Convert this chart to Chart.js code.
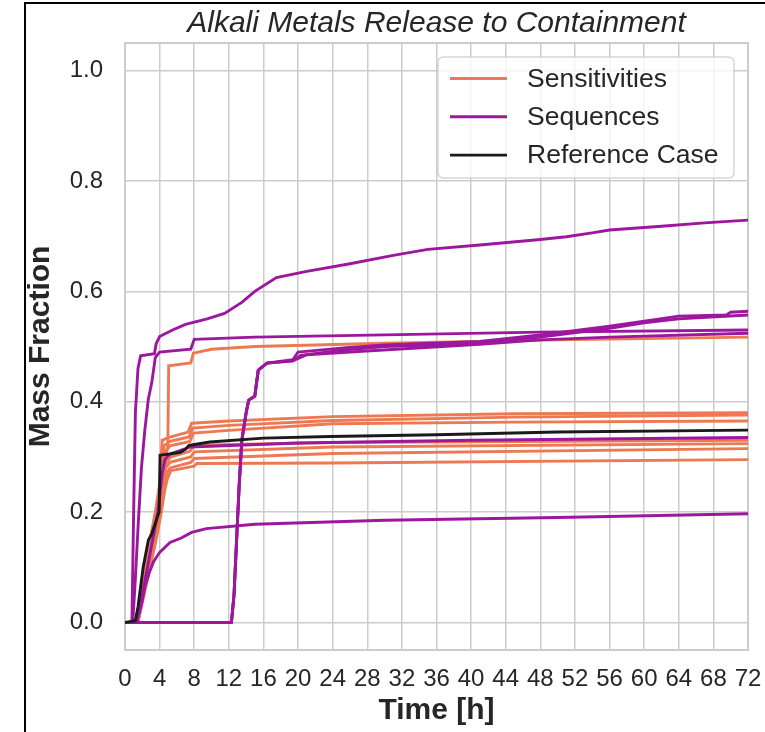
<!DOCTYPE html>
<html>
<head>
<meta charset="utf-8">
<script src="https://cdn.jsdelivr.net/npm/chart.js@4.4.0/dist/chart.umd.min.js"></script>
<style>
    html, body { margin: 0; padding: 0; background: #fff; overflow: hidden; }
    #wrap { position: relative; width: 765px; height: 732px; }
    #frame { position: absolute; left: 24px; top: 2px; width: 800px; height: 800px; border: 2px solid #000; pointer-events: none; }
</style>
</head>
<body>
<div id="wrap">
    <canvas id="releaseChart" width="765" height="732"></canvas>
    <div id="frame"></div>
</div>
<script>
// Tick labels
const xTicks = [0, 4, 8, 12, 16, 20, 24, 28, 32, 36, 40, 44, 48, 52, 56, 60, 64, 68, 72];
const yTicks = [0, 0.2, 0.4, 0.6, 0.8, 1.0];

// Reference case [time h, mass fraction]
const refCase = [[0, 0], [1.2, 0.003], [1.5, 0.028], [2.1, 0.1], [2.7, 0.149], [3.1, 0.161], [3.7, 0.189], [3.95, 0.2],
    [4.05, 0.303], [5, 0.305], [6.4, 0.308], [7.0, 0.314], [7.4, 0.321], [9.8, 0.327], [16, 0.334], [23.7, 0.337],
    [36, 0.34], [50, 0.345], [72, 0.3485]];

// Sensitivities
const sens1 = [[0, 0], [1.3, 0], [1.8, 0.035], [2.4, 0.09], [3.0, 0.14], [3.6, 0.19], [4.2, 0.25], [4.6, 0.29], [4.95, 0.32],
    [5.05, 0.465], [7.6, 0.47], [7.9, 0.488], [10, 0.495], [15, 0.5], [30, 0.506], [50, 0.512], [72, 0.517]];
const sens2 = [[0, 0], [1.2, 0], [1.7, 0.04], [2.3, 0.1], [2.9, 0.15], [3.5, 0.2], [4.0, 0.25], [4.3, 0.33], [5, 0.335],
    [7.3, 0.345], [7.7, 0.361], [12, 0.365], [24, 0.373], [45, 0.378], [72, 0.38]];
const sens3 = [[0, 0], [1.3, 0], [1.9, 0.04], [2.5, 0.09], [3.1, 0.14], [3.7, 0.19], [4.2, 0.24], [4.5, 0.32], [5.2, 0.328],
    [7.4, 0.336], [7.8, 0.352], [12, 0.357], [24, 0.366], [45, 0.372], [72, 0.376]];
const sens4 = [[0, 0], [1.4, 0], [2.0, 0.05], [2.6, 0.1], [3.2, 0.15], [3.8, 0.2], [4.4, 0.26], [4.7, 0.31], [5.2, 0.32],
    [7.5, 0.328], [7.9, 0.343], [12, 0.348], [24, 0.36], [45, 0.363], [72, 0.365]];
const sens5 = [[0, 0], [1.5, 0], [2.1, 0.05], [2.8, 0.11], [3.4, 0.16], [4.0, 0.21], [4.5, 0.26], [4.8, 0.29], [5.3, 0.3],
    [7.5, 0.31], [8.0, 0.321], [24, 0.326], [72, 0.33]];
const sens6 = [[0, 0], [1.3, 0], [1.9, 0.04], [2.5, 0.08], [3.2, 0.13], [3.9, 0.19], [4.4, 0.24], [4.7, 0.28], [5.2, 0.29],
    [7.6, 0.3], [8.0, 0.309], [24, 0.318], [72, 0.324]];
const sens7 = [[0, 0], [1.4, 0], [2.0, 0.04], [2.7, 0.09], [3.4, 0.14], [4.0, 0.19], [4.5, 0.24], [4.8, 0.27], [5.2, 0.28],
    [7.6, 0.29], [8.0, 0.297], [24, 0.306], [72, 0.315]];
const sens8 = [[0, 0], [1.5, 0], [2.2, 0.05], [2.9, 0.1], [3.6, 0.15], [4.2, 0.2], [4.6, 0.24], [4.9, 0.26], [5.3, 0.275],
    [8, 0.283], [8.3, 0.288], [24, 0.289], [72, 0.295]];

// Sequences
const seqTop = [[0, 0], [0.8, 0], [1.0, 0.2], [1.2, 0.38], [1.5, 0.46], [1.8, 0.483], [3.4, 0.487], [3.6, 0.505], [4.0, 0.518],
    [5.5, 0.53], [7, 0.54], [9.5, 0.55], [11.5, 0.56], [13.5, 0.58], [15, 0.6], [17.5, 0.625], [21, 0.636], [26, 0.65],
    [31, 0.665], [35, 0.676], [41, 0.684], [48, 0.694], [51, 0.699], [54, 0.706], [56, 0.711], [62, 0.718], [67, 0.724], [72, 0.729]];
const seqFlat = [[0, 0], [0.9, 0], [1.2, 0.08], [1.5, 0.17], [1.9, 0.28], [2.3, 0.35], [2.7, 0.405], [3.1, 0.435], [3.5, 0.48],
    [4.0, 0.49], [7.6, 0.495], [8.0, 0.513], [15, 0.517], [30, 0.521], [48, 0.526], [72, 0.53]];
const seqLow = [[0, 0], [1.3, 0], [1.7, 0.02], [2.0, 0.04], [2.3, 0.065], [2.8, 0.09], [3.3, 0.11], [4.0, 0.127], [5.2, 0.145],
    [6.5, 0.153], [7.7, 0.163], [9.4, 0.17], [15, 0.178], [30, 0.185], [50, 0.19], [72, 0.197]];
const seqLateA = [[0, 0], [12.3, 0], [12.6, 0.05], [12.9, 0.15], [13.2, 0.25], [13.5, 0.33], [14.0, 0.38], [14.3, 0.403],
    [15.0, 0.41], [15.4, 0.457], [16.4, 0.47], [19.4, 0.476], [20, 0.49], [25.6, 0.498], [30, 0.503], [41, 0.509],
    [48, 0.521], [56, 0.537], [60, 0.546], [64, 0.555], [69.5, 0.557], [70, 0.562], [72, 0.564]];
const seqLateB = [[0, 0], [12.3, 0], [12.6, 0.05], [12.9, 0.15], [13.2, 0.25], [13.5, 0.33], [14.0, 0.38], [14.3, 0.403],
    [15.0, 0.41], [15.4, 0.457], [16.4, 0.47], [19.4, 0.474], [20.3, 0.484], [25.6, 0.494], [30, 0.5], [41, 0.506],
    [48, 0.517], [56, 0.533], [60, 0.543], [64, 0.55], [72, 0.557]];
const seqLateC = [[0, 0], [12.3, 0], [12.6, 0.05], [12.9, 0.15], [13.2, 0.25], [13.5, 0.33], [14.0, 0.38], [14.3, 0.403],
    [15.0, 0.41], [15.4, 0.457], [16.4, 0.47], [19.4, 0.474], [21, 0.485], [26, 0.49], [41, 0.504], [48, 0.512],
    [56, 0.517], [72, 0.524]];
const seqMid = [[0, 0], [1.4, 0], [2.0, 0.05], [2.6, 0.1], [3.2, 0.15], [3.8, 0.2], [4.3, 0.27], [4.6, 0.295], [5.2, 0.305],
    [7, 0.315], [7.5, 0.318], [20, 0.325], [40, 0.33], [72, 0.335]];

const sensitivities = [sens1, sens2, sens3, sens4, sens5, sens6, sens7, sens8];
const sequences = [seqTop, seqFlat, seqLow, seqLateA, seqLateB, seqLateC, seqMid];

const SENS_COLOR = '#ed7953';
const SEQ_COLOR = '#9c179e';
const REF_COLOR = '#1a1a1a';
const FONT = "'Liberation Sans', Arial, sans-serif";
const TITLE = 'Alkali Metals Release to Containment';

Chart.defaults.font.family = FONT;
Chart.defaults.color = '#262626';

function line(data, color, order) {
    return { data: data, borderColor: color, borderWidth: 2.9, pointRadius: 0, tension: 0, fill: false, order: order };
}

const datasets = [line(refCase, REF_COLOR, 0)]
    .concat(sequences.map(s => line(s, SEQ_COLOR, 1)))
    .concat(sensitivities.map(s => line(s, SENS_COLOR, 2)));

// light frame around the axes + title centred over the plot
const framePlugin = {
    id: 'frame',
    beforeDatasetsDraw(chart) {
        const a = chart.chartArea, c = chart.ctx;
        c.save();
        c.strokeStyle = '#cccccc';
        c.lineWidth = 2;
        c.strokeRect(a.left, a.top, a.right - a.left, a.bottom - a.top);
        c.font = 'italic 30px ' + FONT;
        c.fillStyle = '#262626';
        c.textAlign = 'center';
        c.textBaseline = 'middle';
        c.fillText(TITLE, (a.left + a.right) / 2, 24);
        c.restore();
    }
};

// legend box in the upper right corner
const legendItems = [
    { text: 'Sensitivities', color: SENS_COLOR },
    { text: 'Sequences', color: SEQ_COLOR },
    { text: 'Reference Case', color: REF_COLOR }
];
const legendPlugin = {
    id: 'boxLegend',
    afterDraw(chart) {
        const a = chart.chartArea, c = chart.ctx;
        const w = 296, h = 121, r = 6;
        const x = a.right - 14 - w, y = a.top + 14;
        c.save();
        c.beginPath();
        c.moveTo(x + r, y);
        c.lineTo(x + w - r, y);
        c.quadraticCurveTo(x + w, y, x + w, y + r);
        c.lineTo(x + w, y + h - r);
        c.quadraticCurveTo(x + w, y + h, x + w - r, y + h);
        c.lineTo(x + r, y + h);
        c.quadraticCurveTo(x, y + h, x, y + h - r);
        c.lineTo(x, y + r);
        c.quadraticCurveTo(x, y, x + r, y);
        c.closePath();
        c.fillStyle = 'rgba(255,255,255,0.8)';
        c.fill();
        c.strokeStyle = 'rgba(204,204,204,0.8)';
        c.lineWidth = 1.5;
        c.stroke();
        c.font = '26.5px ' + FONT;
        c.textBaseline = 'middle';
        c.textAlign = 'left';
        legendItems.forEach((it, i) => {
            const cy = y + 21.5 + i * 38.3;
            c.strokeStyle = it.color;
            c.lineWidth = 2.9;
            c.beginPath();
            c.moveTo(x + 12, cy);
            c.lineTo(x + 69, cy);
            c.stroke();
            c.fillStyle = '#262626';
            c.fillText(it.text, x + 89, cy + 1);
        });
        c.restore();
    }
};

const ctx = document.getElementById('releaseChart').getContext('2d');

new Chart(ctx, {
    type: 'line',
    data: { datasets: datasets },
    options: {
        responsive: false,
        animation: false,
        layout: { padding: { left: 0, right: 17, top: 43, bottom: 0 } },
        plugins: {
            legend: { display: false },
            tooltip: { enabled: false },
            title: { display: false }
        },
        scales: {
            x: {
                type: 'linear',
                min: 0,
                max: 72,
                afterBuildTicks: s => { s.ticks = xTicks.map(v => ({ value: v })); },
                afterFit: s => { s.height = 82; s.paddingLeft = 0; s.paddingRight = 0; },
                ticks: { font: { size: 24 }, padding: 15, autoSkip: false, maxRotation: 0, color: '#262626' },
                grid: { color: '#cccccc', lineWidth: 1.5, drawTicks: false },
                border: { display: false },
                title: {
                    display: true,
                    text: 'Time [h]',
                    color: '#262626',
                    font: { size: 30, weight: 'bold' },
                    padding: { top: 0, bottom: 3 }
                }
            },
            y: {
                min: -0.05,
                max: 1.05,
                afterBuildTicks: s => { s.ticks = yTicks.map(v => ({ value: v })); },
                afterFit: s => { s.width = 125; s.paddingTop = 0; s.paddingBottom = 0; },
                ticks: { font: { size: 24 }, padding: 22, color: '#262626', callback: v => v.toFixed(1) },
                grid: { color: '#cccccc', lineWidth: 1.5, drawTicks: false },
                border: { display: false },
                title: {
                    display: true,
                    text: 'Mass Fraction',
                    color: '#262626',
                    font: { size: 30, weight: 'bold' },
                    padding: { top: 23, bottom: 0 }
                }
            }
        }
    },
    plugins: [framePlugin, legendPlugin]
});
</script>
</body>
</html>
